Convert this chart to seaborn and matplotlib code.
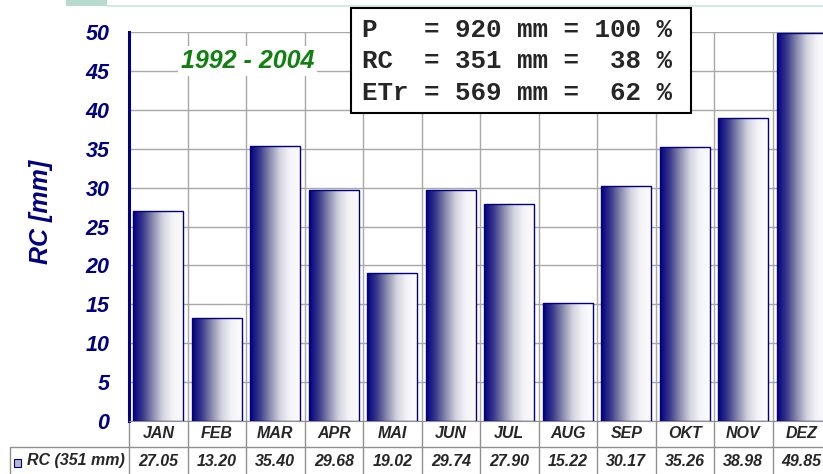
#!/usr/bin/env python3
"""
Monthly runoff (RC) bar chart, 1992 - 2004, with data table below.
"""

import numpy as np
import pandas as pd
import matplotlib
matplotlib.use("Agg")
import matplotlib.pyplot as plt
import matplotlib.transforms as mtrans
from matplotlib.colors import LinearSegmentedColormap
from matplotlib.patches import Rectangle
import seaborn as sns

# data
months = ["JAN", "FEB", "MAR", "APR", "MAI", "JUN",
          "JUL", "AUG", "SEP", "OKT", "NOV", "DEZ"]
rc_values = [27.05, 13.20, 35.40, 29.68, 19.02, 29.74,
             27.90, 15.22, 30.17, 35.26, 38.98, 49.85]
row_label = "RC (351 mm)"
period_label = "1992 - 2004"
balance_lines = ["P   = 920 mm = 100 %",
                 "RC  = 351 mm =  38 %",
                 "ETr = 569 mm =  62 %"]
y_ticks = list(range(0, 55, 5))

NAVY = "#000080"
W, H = 823, 474

def main():
    df = pd.DataFrame({"month": months, "rc": rc_values})

    sns.set_style("white")
    plt.rcParams["font.family"] = ["Liberation Sans", "DejaVu Sans"]

    fig = plt.figure(figsize=(W / 100, H / 100), dpi=100)
    # axes from x=129..831 px, y=32..421 px (right side cut off like the original)
    ax = fig.add_axes([129 / W, (H - 421) / H, (831 - 129) / W, (421 - 32) / H])

    sns.barplot(data=df, x="month", y="rc", ax=ax, width=0.85,
                color="white", edgecolor=NAVY, linewidth=1.0, zorder=3)

    # gradient fill in each bar
    cmap = LinearSegmentedColormap.from_list(
        "bar", ["#000080", "#3c3c8c", "#8c8cb0", "#d4d4e0", "#f4f4f8", "#fcfcfd"])
    grad = np.linspace(0, 1, 256).reshape(1, -1)
    for p in ax.patches:
        x0, y0 = p.get_x(), p.get_y()
        im = ax.imshow(grad, cmap=cmap, aspect="auto", zorder=3.5,
                       extent=[x0, x0 + p.get_width(), y0, y0 + p.get_height()])
        im.set_clip_path(p)
        p.set_zorder(4)
        p.set_facecolor("none")

    ax.set_xlim(-0.5, len(months) - 0.5)
    ax.set_ylim(0, 50)
    ax.set_yticks(y_ticks)
    ax.set_xticks(np.arange(len(months)) - 0.5, minor=True)
    ax.set_xticks([])
    ax.grid(True, which="major", axis="y", color="#a8a8a8", lw=1, zorder=0)
    ax.grid(True, which="minor", axis="x", color="#a8a8a8", lw=1, zorder=0)
    ax.tick_params(axis="x", which="both", length=0)

    for s in ["top", "right"]:
        ax.spines[s].set_visible(False)
    ax.spines["bottom"].set_color("#909090")
    ax.spines["left"].set_color(NAVY)
    ax.spines["left"].set_linewidth(2.2)
    ax.tick_params(axis="y", direction="out", length=6, width=2,
                   color=NAVY, pad=8, labelcolor=NAVY, labelsize=15.5)
    for lbl in ax.get_yticklabels():
        lbl.set_fontweight("bold")
        lbl.set_fontstyle("italic")

    ax.set_xlabel("")
    ax.set_ylabel("RC [mm]", color=NAVY, fontsize=18,
                  fontweight="bold", fontstyle="italic")
    ax.yaxis.set_label_coords(-(129 - 53) / (831 - 129), 0.537)

    # period label
    ax.text(1.53, 46.3, period_label, color="#108010", fontsize=18,
            fontweight="bold", fontstyle="italic", ha="center", va="center",
            zorder=5, bbox=dict(fc="white", ec="none", pad=2))

    # water balance box
    fig.add_artist(Rectangle((351 / W, 1 - 113 / H), (691 - 351) / W,
                             (113 - 8) / H, transform=fig.transFigure,
                             fc="white", ec="black", lw=1.5, zorder=6))
    for i, line in enumerate(balance_lines):
        fig.text(362 / W, 1 - (30 + i * 31.5) / H, line,
                 family=["Liberation Mono", "DejaVu Sans Mono"],
                 fontsize=18.6, fontweight="bold", va="center", ha="left",
                 zorder=7)

    # table under the axes
    tr = mtrans.blended_transform_factory(ax.transData, ax.transAxes)
    ah = 421 - 32
    y_mid = -(447 - 421) / ah
    y_bot = -(474 - 421) / ah
    left_x = (10 - 129) / 58.5 - 0.5
    line_kw = dict(color="#909090", lw=1, transform=tr, clip_on=False)
    for i in range(len(months) + 1):
        ax.plot([i - 0.5, i - 0.5], [0, y_bot], **line_kw)
    ax.plot([left_x, len(months) - 0.5], [y_mid, y_mid], **line_kw)
    ax.plot([left_x, left_x], [y_mid, y_bot], **line_kw)
    for i, (m, v) in enumerate(zip(months, rc_values)):
        ax.text(i, -(434 - 421) / ah, m, transform=tr, ha="center",
                va="center", fontsize=11.5, fontweight="bold",
                fontstyle="italic", clip_on=False)
        ax.text(i, -(461 - 421) / ah, f"{v:.2f}", transform=tr, ha="center",
                va="center", fontsize=11.5, fontweight="bold",
                fontstyle="italic", clip_on=False)
    ax.text((27 - 129) / 58.5 - 0.5, -(461 - 421) / ah, row_label,
            transform=tr, ha="left", va="center", fontsize=11.5,
            fontweight="bold", fontstyle="italic", clip_on=False)
    fig.add_artist(Rectangle((14 / W, 1 - 467 / H), 7 / W, 8 / H,
                             transform=fig.transFigure, fc="#b8b8d0",
                             ec=NAVY, lw=0.8))

    # decorative strip at the top
    fig.add_artist(Rectangle((66 / W, 1 - 6 / H), 41 / W, 6 / H,
                             transform=fig.transFigure, fc="#b7dccf", ec="none"))
    fig.add_artist(Rectangle((107 / W, 1 - 7 / H), 716 / W, 2 / H,
                             transform=fig.transFigure, fc="#d0ebe3", ec="none"))

    fig.savefig("out.png", dpi=100)

if __name__ == "__main__":
    main()
